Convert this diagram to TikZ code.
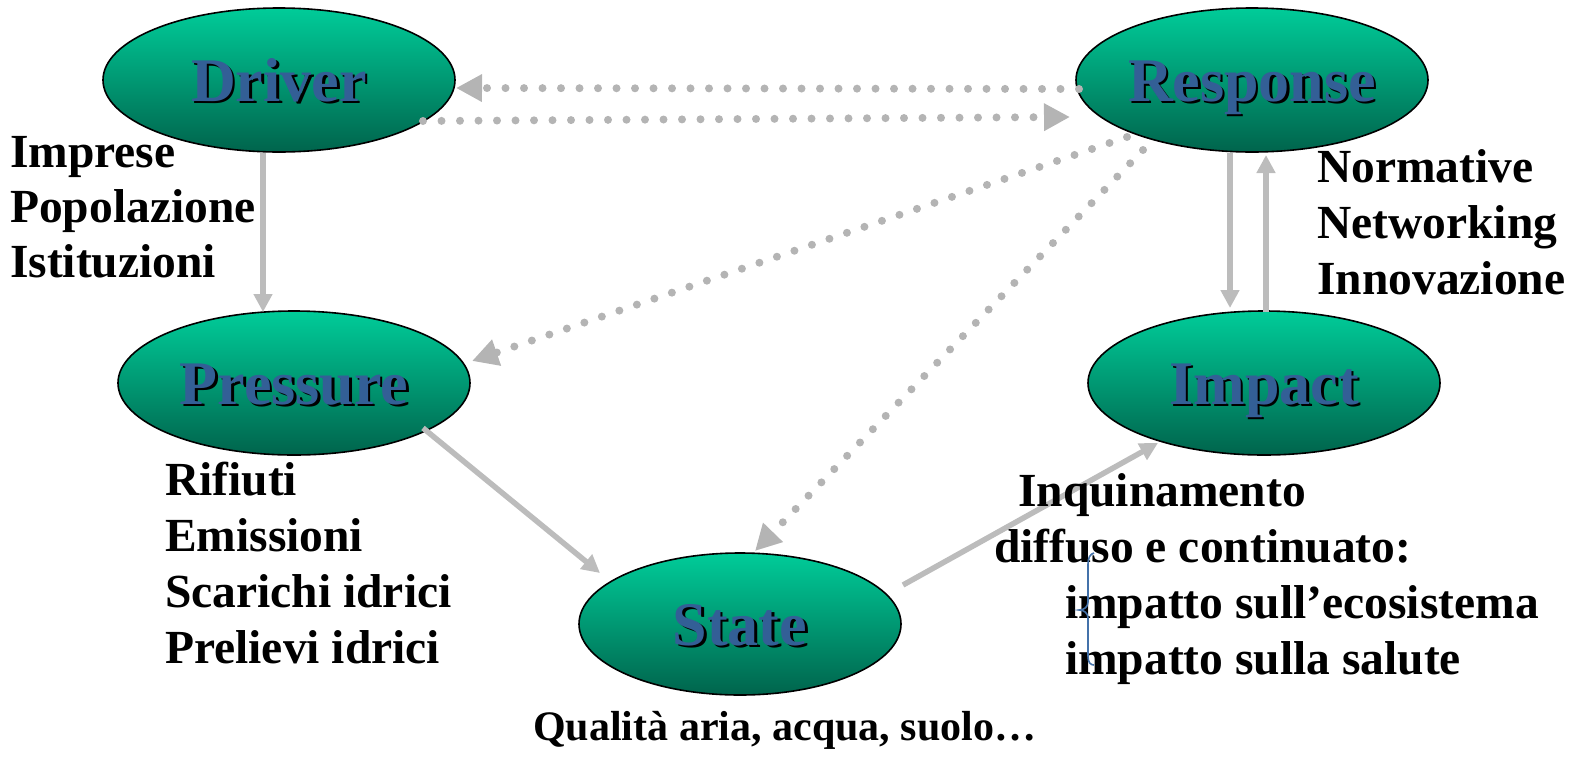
\documentclass[tikz,border=0pt]{standalone}
\usepackage{fontspec}
\setmainfont{Liberation Serif}
\usetikzlibrary{shapes.geometric,arrows.meta,calc}
\definecolor{topg}{RGB}{0,204,153}
\definecolor{botg}{RGB}{0,100,76}
\definecolor{lblue}{RGB}{51,95,150}
\definecolor{arrg}{RGB}{188,188,188}
\definecolor{dotg}{RGB}{180,180,180}
\definecolor{brc}{RGB}{68,114,170}
\newcommand{\shadowlbl}[1]{\rlap{\hspace{2.5pt}\raisebox{-2.5pt}{\color{black}#1}}{\color{lblue}#1}}
\begin{document}
\begin{tikzpicture}[x=1pt,y=-1pt,
 blob/.style={ellipse, draw=black, line width=1.6pt, top color=topg, bottom color=botg,
   minimum width=352pt, minimum height=144pt, inner sep=0pt,
   text height=42pt, text depth=0pt,
   font=\fontsize{62}{74}\selectfont\bfseries},
 txt/.style={anchor=base west, inner sep=0pt, font=\fontsize{47.5}{56}\selectfont\bfseries},
 smalltxt/.style={anchor=base west, inner sep=0pt, font=\fontsize{42}{50}\selectfont\bfseries},
 solidarr/.style={draw=arrg, line width=5.5pt, -{Triangle[length=18pt,width=18pt]}},
 dotarr/.style={draw=dotg, line width=8pt, line cap=round, dash pattern=on 0pt off 18.5pt,
   -{Triangle[length=26pt,width=26pt]}},
 bracestyle/.style={draw=brc, line width=1.6pt},
]
\useasboundingbox (0,0) rectangle (1576,758);

% ellipses
\node[blob] (drv) at (279,80) {\shadowlbl{Driver}};
\node[blob] (rsp) at (1252,80) {\shadowlbl{Response}};
\node[blob] (prs) at (294,383) {\shadowlbl{Pressure}};
\node[blob] (imp) at (1264,383) {\shadowlbl{Impact}};
\node[blob, minimum width=322pt, minimum height=142pt] (sta) at (740,624) {\shadowlbl{State}};

% dotted connectors
\draw[dotarr] ($(rsp.center)+(-173,9)$) -- ($(drv.center)+(177,8)$);
\draw[dotarr] ($(drv.center)+(144,41)$) -- ($(rsp.center)+(-182,37)$);
\draw[dotarr] ($(rsp.center)+(-125,57)$) -- ($(prs.center)+(178,-22)$);
\draw[dotarr] ($(rsp.center)+(-109,70)$) -- ($(sta.center)+(15,-73)$);

% solid connectors
\draw[solidarr] ($(drv.center)+(-16,73)$) -- ($(prs.center)+(-31,-71)$);
\draw[solidarr] ($(rsp.center)+(-22,73)$) -- ($(imp.center)+(-34,-75)$);
\draw[solidarr] ($(imp.center)+(2,-71)$) -- ($(rsp.center)+(14,75)$);
\draw[solidarr] ($(prs.center)+(129,45)$) -- ($(sta.center)+(-140,-51)$);
\draw[solidarr] ($(sta.center)+(163,-39)$) -- ($(imp.center)+(-106,60)$);

% texts
\node[txt] (d1) at (10,167) {Imprese};
\node[txt] (d2) at (10,222) {Popolazione};
\node[txt] (d3) at (10,277) {Istituzioni};

\node[txt] (p1) at (165,495) {Rifiuti};
\node[txt] (p2) at (165,551) {Emissioni};
\node[txt] (p3) at (165,607) {Scarichi idrici};
\node[txt] (p4) at (165,663) {Prelievi idrici};

\node[txt] (r1) at (1317,182) {Normative};
\node[txt] (r2) at (1317,238) {Networking};
\node[txt] (r3) at (1317,294) {Innovazione};

\node[txt] (i1) at (1018,506) {Inquinamento};
\node[txt] (i2) at (994,562) {diffuso e continuato:};
\node[txt] (i3) at (1065,618) {impatto sull’ecosistema};
\node[txt] (i4) at (1065,674) {impatto sulla salute};

\node[smalltxt] (s1) at (533,740) {Qualità aria, acqua, suolo…};

% blue brace
\coordinate (bt) at (1094,553);
\coordinate (bm) at (1079,610);
\coordinate (bb) at (1094,665);
\draw[bracestyle] (bt) .. controls (1090,554) and (1088,558) .. (1088,564)
  -- (1088,602) .. controls (1088,607) and (1084,610) .. (bm)
  .. controls (1084,610) and (1088,613) .. (1088,618)
  -- (1088,656) .. controls (1088,662) and (1090,665) .. (bb);
\end{tikzpicture}
\end{document}
